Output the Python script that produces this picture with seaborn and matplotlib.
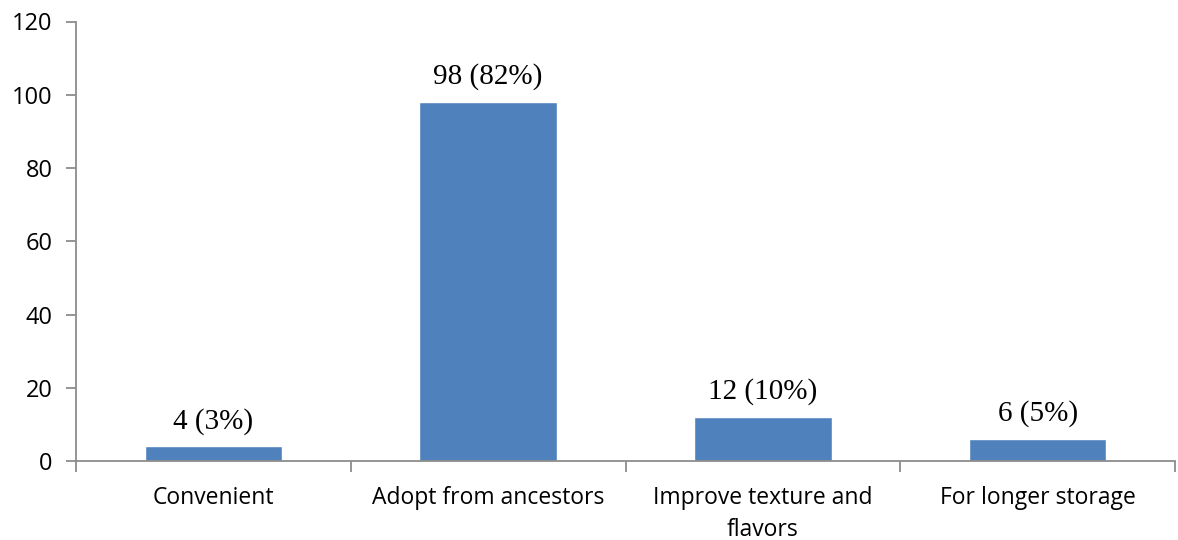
import matplotlib
matplotlib.use("Agg")
import matplotlib.pyplot as plt
import seaborn as sns
import pandas as pd
import numpy as np
from matplotlib.ticker import FixedLocator, NullFormatter

categories = ["Convenient", "Adopt from ancestors", "Improve texture and\nflavors", "For longer storage"]
counts = [4, 98, 12, 6]
percents = [3, 82, 10, 5]

sns.set_style("white")
plt.rcParams["font.family"] = ["Open Sans", "DejaVu Sans"]

df = pd.DataFrame({"reason": categories, "count": counts})

fig = plt.figure(figsize=(11.78, 5.4), dpi=100)
ax = fig.add_axes([76 / 1178, 1 - 461 / 540, (1175 - 76) / 1178, (461 - 21.5) / 540])
sns.barplot(data=df, x="reason", y="count", color="#4F81BD", saturation=1, width=0.5, ax=ax)

for i, (c, p) in enumerate(zip(counts, percents)):
    ax.text(i, c + 3.2, f"{c} ({p}%)", ha="center", va="bottom",
            family="Liberation Serif", fontsize=21, color="black")

ax.set_ylim(0, 120)
ax.set_xlim(-0.5, len(categories) - 0.5)
ax.set_yticks(range(0, 121, 20))
ax.set_xlabel("")
ax.set_ylabel("")

spine_color = "#8C8C8C"
for s in ["top", "right"]:
    ax.spines[s].set_visible(False)
for s in ["left", "bottom"]:
    ax.spines[s].set_color(spine_color)
    ax.spines[s].set_linewidth(1.3)

ax.tick_params(axis="y", which="major", length=7, width=1.3, color=spine_color,
               labelsize=17, pad=10, left=True, labelcolor="black")
ax.tick_params(axis="x", which="major", length=0, labelsize=16.5, pad=18, labelcolor="black")
for lbl in ax.get_xticklabels():
    lbl.set_linespacing(1.45)
ax.xaxis.set_minor_locator(FixedLocator(np.arange(-0.5, len(categories), 1.0)))
ax.xaxis.set_minor_formatter(NullFormatter())
ax.tick_params(axis="x", which="minor", length=8, width=1.3, color=spine_color, bottom=True)

fig.savefig("out.png", dpi=100)
